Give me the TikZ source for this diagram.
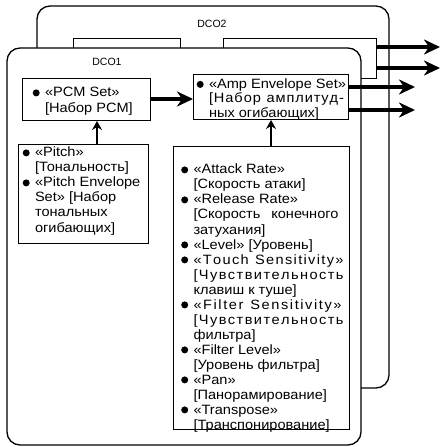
\documentclass[tikz,border=0pt]{standalone}
\usepackage{fontspec}
\setmainfont[FakeStretch=1.08]{Liberation Sans}
\newfontfamily\lblfont{Liberation Sans}
\usetikzlibrary{arrows.meta}
\newcommand\bul{\makebox[0pt][r]{\raisebox{0.6bp}{\tikz\fill (0,0) circle (3.5bp);}\hspace{5.3bp}}}
% letter-spread helpers: glue between the letters of a word
\def\lsA#1{#1\lsB}
\def\lsB#1{\ifx#1\relax\else\hskip 0pt plus 1fil\relax #1\expandafter\lsB\fi}
\newcommand\jw[1]{\lsA#1\relax}
\newcommand\jsp{\hskip 0.28em plus 2fil\relax}
\begin{document}
\begin{tikzpicture}[x=1bp,y=-1bp,
  outer/.style={draw, line width=1.3bp, fill=white, rounded corners=13bp, inner sep=0pt, outer sep=0pt, anchor=north west},
  box/.style={draw, line width=1bp, fill=white, inner sep=0pt, outer sep=0pt, anchor=north west},
  ln/.style={anchor=base west, inner sep=0pt, outer sep=0pt, font=\fontsize{13.5bp}{15bp}\selectfont},
  lbl/.style={inner sep=0pt, font=\lblfont\fontsize{10.5bp}{12bp}\selectfont},
  thick arrow/.style={line width=4bp, -{Stealth[length=16bp,width=15bp,inset=5bp]}},
  thin arrow/.style={line width=1.6bp, -{Stealth[length=9bp,width=10bp,inset=3bp]}}]
\useasboundingbox (0,0) rectangle (443,447);
% DCO2
\node[outer, minimum width=352bp, minimum height=382bp] (dco2) at (37,6) {};
\node[lbl] (dco2lbl) at (212,24) {DCO2};
\node[box, minimum width=107bp, minimum height=50bp] (d2a) at (73,39) {};
\node[box, minimum width=153bp, minimum height=40bp] (d2b) at (223,39) {};
\coordinate (o1) at (440,47);
\coordinate (o2) at (440,68);
\draw[thick arrow] (d2b.east |- o1) -- (o1);
\draw[thick arrow] (d2b.east |- o2) -- (o2);
% DCO1
\node[outer, minimum width=354bp, minimum height=397bp] (dco1) at (7,48) {};
\node[lbl] (dco1lbl) at (107,62) {DCO1};
% PCM Set
\node[box, minimum width=128bp, minimum height=42bp] (pcm) at (22,79) {};
\node[ln] (pcm1) at (45,97) {\bul«PCM Set»};
\node[ln] (pcm2) at (45,113) {[Набор PCM]};
% Amp Envelope Set
\node[box, minimum width=155bp, minimum height=45bp] (amp) at (193,75) {};
\node[ln] (amp1) at (209,88.5) {\bul«Amp Envelope Set»};
\node[ln] (amp2) at (209,103) {\makebox[135bp][s]{\jw{[Набор}\jsp\jw{амплитуд-}}};
\node[ln] (amp3) at (209,117.5) {ных огибающих]};
% Pitch
\node[box, minimum width=130bp, minimum height=98bp] (pitch) at (18,145) {};
\foreach \t [count=\i from 0] in {\bul«Pitch», [Тональность], \bul«Pitch Envelope, Set» [Набор, тональных, огибающих]}
  \node[ln] (pt\i) at (35,157+15*\i) {\t};
% parameters
\node[box, minimum width=176bp, minimum height=282bp] (params) at (173,147) {};
\foreach \t [count=\i from 0] in {
  \bul«Attack Rate»,
  [Скорость атаки],
  \bul«Release Rate»,
  \makebox[145bp][s]{[Скорость\jsp конечного},
  затухания],
  \bul«Level» [Уровень],
  \bul\makebox[150bp][s]{\jw{«Touch}\jsp\jw{Sensitivity»}},
  \makebox[150bp][s]{\jw{[Чувствительность}},
  клавиш к туше],
  \bul\makebox[148bp][s]{\jw{«Filter}\jsp\jw{Sensitivity»}},
  \makebox[150bp][s]{\jw{[Чувствительность}},
  фильтра],
  \bul«Filter Level»,
  [Уровень фильтра],
  \bul«Pan»,
  [Панорамирование],
  \bul«Transpose»,
  [Транспонирование]}
  \node[ln] (pr\i) at (193.5,174+15*\i) {\t};
% connectors
\coordinate (a1) at (415,87);
\coordinate (a2) at (415,110);
\draw[thick arrow] (pcm.east |- 0,99) -- (amp.west |- 0,99);
\draw[thick arrow] (amp.east |- a1) -- (a1);
\draw[thick arrow] (amp.east |- a2) -- (a2);
\draw[thin arrow] (pitch.north -| 97,0) -- (pcm.south -| 97,0);
\draw[thin arrow] (params.north -| 271,0) -- (amp.south -| 271,0);
\end{tikzpicture}
\end{document}
